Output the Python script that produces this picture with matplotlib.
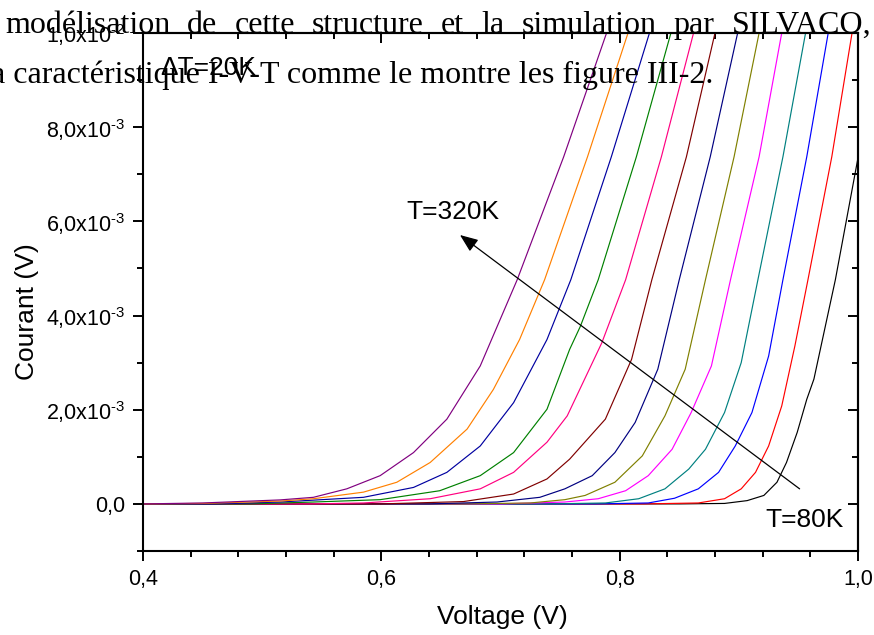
import matplotlib
matplotlib.use("Agg")
import matplotlib.pyplot as plt
from matplotlib.ticker import MultipleLocator, FuncFormatter
import numpy as np

plt.rcParams['font.family'] = ['Liberation Sans', 'DejaVu Sans']
plt.rcParams['mathtext.fontset'] = 'custom'
plt.rcParams['mathtext.rm'] = 'Liberation Sans'
plt.rcParams['mathtext.it'] = 'Liberation Sans:italic'
plt.rcParams['mathtext.default'] = 'regular'

# ---- I-V curves, current in mA ----
temperatures = [80, 100, 120, 140, 160, 180, 200, 220, 240, 260, 280, 300, 320]
colors = ['#000000', '#FF0000', '#0000FF', '#008080', '#FF00FF', '#808000',
          '#000080', '#800000', '#FF0080', '#008000', '#0000A0', '#FF8000',
          '#800080']

v_80K = [0.400, 0.850, 0.888, 0.907, 0.921, 0.932, 0.940, 0.949, 0.957, 0.963, 0.981, 1.000]
i_80K = [0.0, 0.0, 0.01, 0.07, 0.18, 0.46, 0.88, 1.52, 2.22, 2.65, 4.76, 7.35]

v_100K = [0.400, 0.820, 0.866, 0.888, 0.902, 0.914, 0.925, 0.936, 0.947, 0.958, 0.978, 0.995]
i_100K = [0.0, 0.0, 0.02, 0.11, 0.32, 0.67, 1.23, 2.08, 3.35, 4.76, 7.37, 10.0]

v_120K = [0.400, 0.780, 0.824, 0.846, 0.866, 0.883, 0.897, 0.911, 0.925, 0.937, 0.957, 0.975]
i_120K = [0.0, 0.0, 0.02, 0.12, 0.32, 0.67, 1.23, 1.94, 3.14, 4.76, 7.37, 10.0]

v_140K = [0.400, 0.740, 0.788, 0.816, 0.838, 0.858, 0.872, 0.888, 0.902, 0.916, 0.937, 0.956]
i_140K = [0.0, 0.0, 0.02, 0.11, 0.32, 0.74, 1.16, 1.94, 3.00, 4.76, 7.37, 10.0]

v_160K = [0.400, 0.700, 0.754, 0.782, 0.805, 0.824, 0.844, 0.860, 0.877, 0.893, 0.917, 0.936]
i_160K = [0.0, 0.0, 0.04, 0.11, 0.28, 0.60, 1.16, 1.94, 2.93, 4.76, 7.37, 10.0]

v_180K = [0.400, 0.670, 0.725, 0.754, 0.771, 0.796, 0.819, 0.838, 0.855, 0.872, 0.896, 0.917]
i_180K = [0.0, 0.0, 0.02, 0.09, 0.18, 0.46, 1.02, 1.87, 2.86, 4.76, 7.37, 10.0]

v_200K = [0.400, 0.640, 0.697, 0.733, 0.754, 0.777, 0.796, 0.813, 0.832, 0.850, 0.876, 0.899]
i_200K = [0.0, 0.0, 0.04, 0.14, 0.32, 0.60, 1.09, 1.73, 2.86, 4.76, 7.37, 10.0]

v_220K = [0.400, 0.600, 0.669, 0.711, 0.739, 0.758, 0.788, 0.810, 0.827, 0.856, 0.880]
i_220K = [0.0, 0.0, 0.05, 0.21, 0.53, 0.95, 1.80, 3.07, 4.76, 7.37, 10.0]

v_240K = [0.400, 0.540, 0.585, 0.641, 0.683, 0.711, 0.739, 0.756, 0.785, 0.805, 0.835, 0.862]
i_240K = [0.0, 0.0, 0.02, 0.11, 0.32, 0.67, 1.31, 1.87, 3.42, 4.76, 7.37, 10.0]

v_260K = [0.400, 0.490, 0.543, 0.599, 0.649, 0.683, 0.711, 0.739, 0.758, 0.767, 0.782, 0.814, 0.843]
i_260K = [0.0, 0.0, 0.04, 0.09, 0.28, 0.60, 1.09, 2.01, 3.28, 3.77, 4.76, 7.37, 10.0]

v_280K = [0.400, 0.460, 0.515, 0.585, 0.627, 0.655, 0.683, 0.711, 0.739, 0.759, 0.793, 0.825]
i_280K = [0.0, 0.0, 0.04, 0.14, 0.35, 0.67, 1.23, 2.15, 3.49, 4.76, 7.37, 10.0]

v_300K = [0.400, 0.450, 0.515, 0.543, 0.585, 0.613, 0.641, 0.672, 0.694, 0.716, 0.737, 0.773, 0.807]
i_300K = [0.0, 0.01, 0.06, 0.11, 0.25, 0.46, 0.88, 1.59, 2.43, 3.49, 4.76, 7.37, 10.0]

v_320K = [0.400, 0.450, 0.515, 0.543, 0.571, 0.599, 0.627, 0.655, 0.683, 0.714, 0.753, 0.789]
i_320K = [0.0, 0.02, 0.085, 0.14, 0.32, 0.60, 1.09, 1.80, 2.93, 4.76, 7.37, 10.0]

voltages = [v_80K, v_100K, v_120K, v_140K, v_160K, v_180K, v_200K,
            v_220K, v_240K, v_260K, v_280K, v_300K, v_320K]
currents = [i_80K, i_100K, i_120K, i_140K, i_160K, i_180K, i_200K,
            i_220K, i_240K, i_260K, i_280K, i_300K, i_320K]

x_major_ticks = [0.4, 0.6, 0.8, 1.0]
y_major_ticks = [0.0, 2e-3, 4e-3, 6e-3, 8e-3, 1e-2]

W, H = 874, 635
fig = plt.figure(figsize=(W / 100, H / 100), dpi=100)
ax = fig.add_axes([143 / W, 1 - 551 / H, 715 / W, 518 / H])

for v, i, c in zip(voltages, currents, colors):
    ax.plot(v, np.array(i) * 1e-3, color=c, lw=0.85, solid_joinstyle='round')

ax.set_xlim(0.4, 1.0)
ax.set_ylim(-1e-3, 1e-2)


def x_fmt(val, pos):
    return f'{val:.1f}'.replace('.', ',')


def y_fmt(val, pos):
    if abs(val) < 1e-12:
        return '0,0'
    e = int(np.floor(np.log10(abs(val)) + 1e-9))
    m = val / 10 ** e
    sign = r'\text{-}' if e < 0 else ''
    return f'{m:.1f}'.replace('.', ',') + 'x10$^{' + sign + str(abs(e)) + '}$'


ax.set_xticks(x_major_ticks)
ax.set_yticks(y_major_ticks)
ax.xaxis.set_minor_locator(MultipleLocator(0.04))
ax.yaxis.set_minor_locator(MultipleLocator(1e-3))
ax.xaxis.set_major_formatter(FuncFormatter(x_fmt))
ax.yaxis.set_major_formatter(FuncFormatter(y_fmt))

ax.tick_params(which='both', direction='out', width=1.4, top=False, right=False,
               labelsize=15.5, pad=5.5)
ax.tick_params(which='major', length=7.2)
ax.tick_params(which='minor', length=4.3)
for s in ax.spines.values():
    s.set_linewidth(1.5)

# inward ticks on the top and right frame
secx = ax.secondary_xaxis('top')
secx.set_xticks(x_major_ticks)
secx.xaxis.set_minor_locator(MultipleLocator(0.04))
secx.tick_params(which='both', direction='in', width=1.4, labeltop=False)
secx.tick_params(which='major', length=7.2)
secx.tick_params(which='minor', length=4.3)
secx.spines['top'].set_linewidth(1.5)

secy = ax.secondary_yaxis('right')
secy.set_yticks(y_major_ticks)
secy.yaxis.set_minor_locator(MultipleLocator(1e-3))
secy.tick_params(which='both', direction='in', width=1.4, labelright=False)
secy.tick_params(which='major', length=7.2)
secy.tick_params(which='minor', length=4.3)
secy.spines['right'].set_linewidth(1.5)

# temperature trend arrow and labels
ax.annotate('', xy=(0.666, 5.71e-3), xytext=(0.951, 0.32e-3),
            arrowprops=dict(arrowstyle='-|>,head_length=0.55,head_width=0.22',
                            color='black', lw=0.9, mutation_scale=20,
                            shrinkA=0, shrinkB=0))
ax.text(0.6207, 6.20e-3, 'T=320K', ha='left', va='center', fontsize=19)
ax.text(0.922, -0.34e-3, 'T=80K', ha='left', va='center', fontsize=19)
ax.text(0.4143, 9.25e-3, '\u0394T=20K', ha='left', va='center', fontsize=19)

fig.text(502 / W, 1 - 617 / H, 'Voltage (V)', ha='center', va='center', fontsize=19)
fig.text(27 / W, 1 - 312 / H, 'Courant (V)', ha='center', va='center',
         rotation=90, fontsize=19)

# surrounding document text (Times-like serif)
serif = dict(family=['Liberation Serif', 'DejaVu Serif'], fontsize=23,
             color='black', va='baseline', zorder=10)
line1 = ['modélisation', 'de', 'cette', 'structure', 'et', 'la',
         'simulation', 'par', 'SILVACO,']
renderer = fig.canvas.get_renderer()
words = [fig.text(0, 1 - 33 / H, w, ha='left', **serif) for w in line1]
widths = [t.get_window_extent(renderer).width for t in words]
x0, x1 = 5.0, 871.0
gap = (x1 - x0 - sum(widths)) / (len(words) - 1)
xpos = x0
for t, wdt in zip(words, widths):
    t.set_x(xpos / W)
    xpos += wdt + gap

fig.text(713 / W, 1 - 83 / H,
         'a caractéristique I-V-T comme le montre les figure III-2.',
         ha='right', **serif)

fig.savefig('out.png', dpi=100)
